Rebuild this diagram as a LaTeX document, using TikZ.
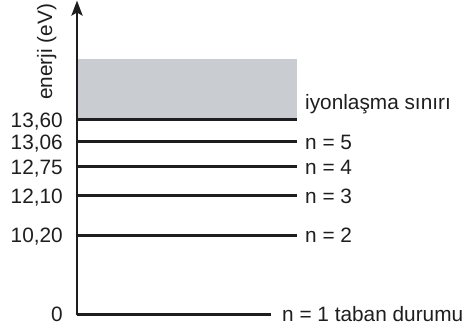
\documentclass[tikz,border=0pt]{standalone}
\usepackage{fontspec}
\setmainfont{Liberation Sans}
\usetikzlibrary{arrows.meta}
\definecolor{bandgray}{RGB}{201,204,208}
\definecolor{ink}{RGB}{30,30,30}
\tikzset{
  lvl/.style={line width=3pt, draw=ink},
  lab/.style={inner sep=0pt, font=\fontsize{20.8}{24}\selectfont, text=ink},
  axisline/.style={line width=2.8pt, draw=ink, -{Stealth[length=15pt,width=11pt,inset=3pt]}}
}
\begin{document}
\begin{tikzpicture}[x=1pt,y=-1pt]
\useasboundingbox (0,0) rectangle (470,328);
% band
\fill[bandgray] (77,59) rectangle (297,120);
% coordinates
\coordinate (o) at (77,314);
\coordinate (top) at (77,0.5);
\coordinate (g) at (271,314);
\foreach \n/\y in {ion/120,l5/142,l4/167,l3/196,l2/235}{
  \coordinate (\n a) at (77,\y);
  \coordinate (\n b) at (297,\y);
}
% levels
\foreach \n in {ion,l5,l4,l3,l2}{ \draw[lvl] (\n a) -- (\n b); }
\draw[lvl] (o) -- (g);
% axis
\draw[axisline] ([yshift=-1.4pt]o) -- (top);
% left labels
\node[lab, anchor=base east] (v0) at (63,321.5) {0};
\node[lab, anchor=base east] (v1) at (63,127.5) {13,60};
\node[lab, anchor=base east] (v2) at (63,149.5) {13,06};
\node[lab, anchor=base east] (v3) at (63,174.5) {12,75};
\node[lab, anchor=base east] (v4) at (63,203.5) {12,10};
\node[lab, anchor=base east] (v5) at (63,242.5) {10,20};
% right labels
\node[lab, anchor=base west] (t0) at (305,110) {iyonlaşma sınırı};
\node[lab, anchor=base west] (t5) at (305,149.5) {n = 5};
\node[lab, anchor=base west] (t4) at (305,174.5) {n = 4};
\node[lab, anchor=base west] (t3) at (305,203.5) {n = 3};
\node[lab, anchor=base west] (t2) at (305,242.5) {n = 2};
\node[lab, anchor=base west] (t1) at (282,321) {n = 1 taban durumu};
% axis title
\node[lab, rotate=90, anchor=base] (ax) at (52,52) {enerji (eV)};
\end{tikzpicture}
\end{document}
